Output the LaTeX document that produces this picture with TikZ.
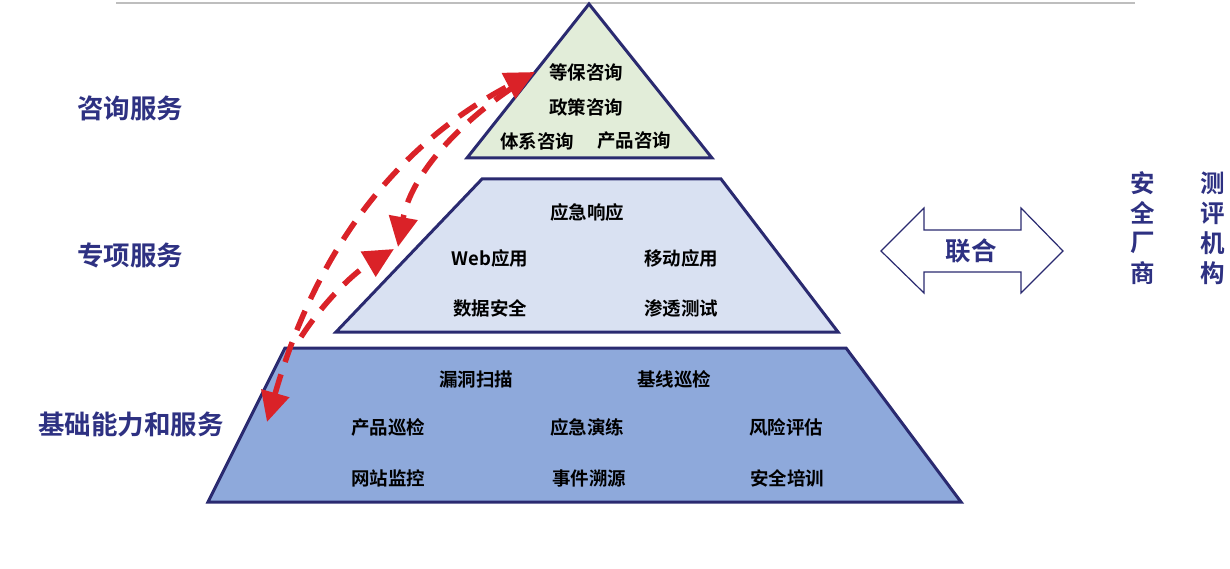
\documentclass[tikz,border=0pt]{standalone}
\usepackage{fontspec}
\setmainfont{Noto Sans CJK SC}[BoldFont={Noto Sans CJK SC Bold}]
\usetikzlibrary{arrows.meta}
\definecolor{navy}{RGB}{42,42,112}
\definecolor{lbl}{RGB}{46,49,130}
\definecolor{fillA}{RGB}{226,237,217}
\definecolor{fillB}{RGB}{217,225,242}
\definecolor{fillC}{RGB}{142,169,219}
\definecolor{redd}{RGB}{218,34,40}
\definecolor{grayline}{RGB}{190,190,190}
\tikzset{
  layer/.style={draw=navy, line width=3pt, line join=miter},
  item/.style={font=\bfseries\fontsize{18.5}{22}\selectfont, text=black, inner sep=0pt},
  side/.style={font=\bfseries\fontsize{26.5}{30}\selectfont, text=lbl, inner sep=0pt},
  mid/.style={font=\bfseries\fontsize{25.5}{30}\selectfont, text=lbl, inner sep=0pt},
  col/.style={font=\bfseries\fontsize{24.5}{28}\selectfont, text=lbl, inner sep=0pt},
  link/.style={draw=redd, line width=5.5pt, dash pattern=on 21pt off 13pt},
  bigtip/.tip={Triangle[length=30pt,width=28pt]},
  tipA/.style={-bigtip},
  tipB/.style={bigtip-bigtip},
}
\begin{document}
\begin{tikzpicture}[x=1pt,y=-1pt]
\useasboundingbox (0,0) rectangle (1230,569);
% top gray rule
\draw[grayline, line width=1.5pt] (116,3) -- (1135,3);
% pyramid layers
\path[layer, fill=fillA] (589,4) -- (712,158) -- (467,158) -- cycle;
\path[layer, fill=fillB] (482,179) -- (721,179) -- (838,332) -- (336,332) -- cycle;
\path[layer, fill=fillC] (285,348) -- (846,348) -- (961,502) -- (208,502) -- cycle;
% top texts
\node[item] (t1) at (586,72) {等保咨询};
\node[item] (t2) at (586,107) {政策咨询};
\node[item] (t3) at (537,141) {体系咨询};
\node[item] (t4) at (634,141) {产品咨询};
% middle texts
\node[item] (m1) at (587,212) {应急响应};
\node[item] (m2) at (490,258) {Web应用};
\node[item] (m3) at (681,258) {移动应用};
\node[item] (m4) at (490,308) {数据安全};
\node[item] (m5) at (681,308) {渗透测试};
% bottom texts
\node[item] (b1) at (476,379) {漏洞扫描};
\node[item] (b2) at (674,379) {基线巡检};
\node[item] (b3) at (388,427) {产品巡检};
\node[item] (b4) at (587,427) {应急演练};
\node[item] (b5) at (786,427) {风险评估};
\node[item] (b6) at (388,478) {网站监控};
\node[item] (b7) at (589,478) {事件溯源};
\node[item] (b8) at (787,478) {安全培训};
% side labels
\node[side] (s1) at (130,108) {咨询服务};
\node[side] (s2) at (130,255) {专项服务};
\node[side] (s3) at (131,424) {基础能力和服务};
% red dashed links
\coordinate (topTip) at (535,72);
\coordinate (botTip) at (267,422);
\coordinate (midTipA) at (398,247);
\coordinate (midTipB) at (394,249);
\coordinate (topStart) at (512,88);
\coordinate (lowStart) at (301,337);
\draw[link, tipB] (botTip) .. controls (302,300) and (362,163) .. (topTip);
\draw[link, tipA] (topStart) .. controls (450,130) and (410,180) .. (midTipA);
\draw[link, tipA] (lowStart) .. controls (325,300) and (355,272) .. (midTipB);
% double arrow
\draw[navy, line width=1.2pt, fill=white]
  (881,251) -- (924,208) -- (924,230) -- (1021,230) -- (1021,208) -- (1063,251)
  -- (1021,293) -- (1021,272) -- (924,272) -- (924,293) -- cycle;
\node[mid] (lh) at (971,251) {联合};
% right columns
\node[col] (r1) at (1143,183) {安};
\node[col] (r2) at (1143,213) {全};
\node[col] (r3) at (1143,243) {厂};
\node[col] (r4) at (1143,273) {商};
\node[col] (q1) at (1213,183) {测};
\node[col] (q2) at (1213,213) {评};
\node[col] (q3) at (1213,243) {机};
\node[col] (q4) at (1213,273) {构};
\end{tikzpicture}
\end{document}
